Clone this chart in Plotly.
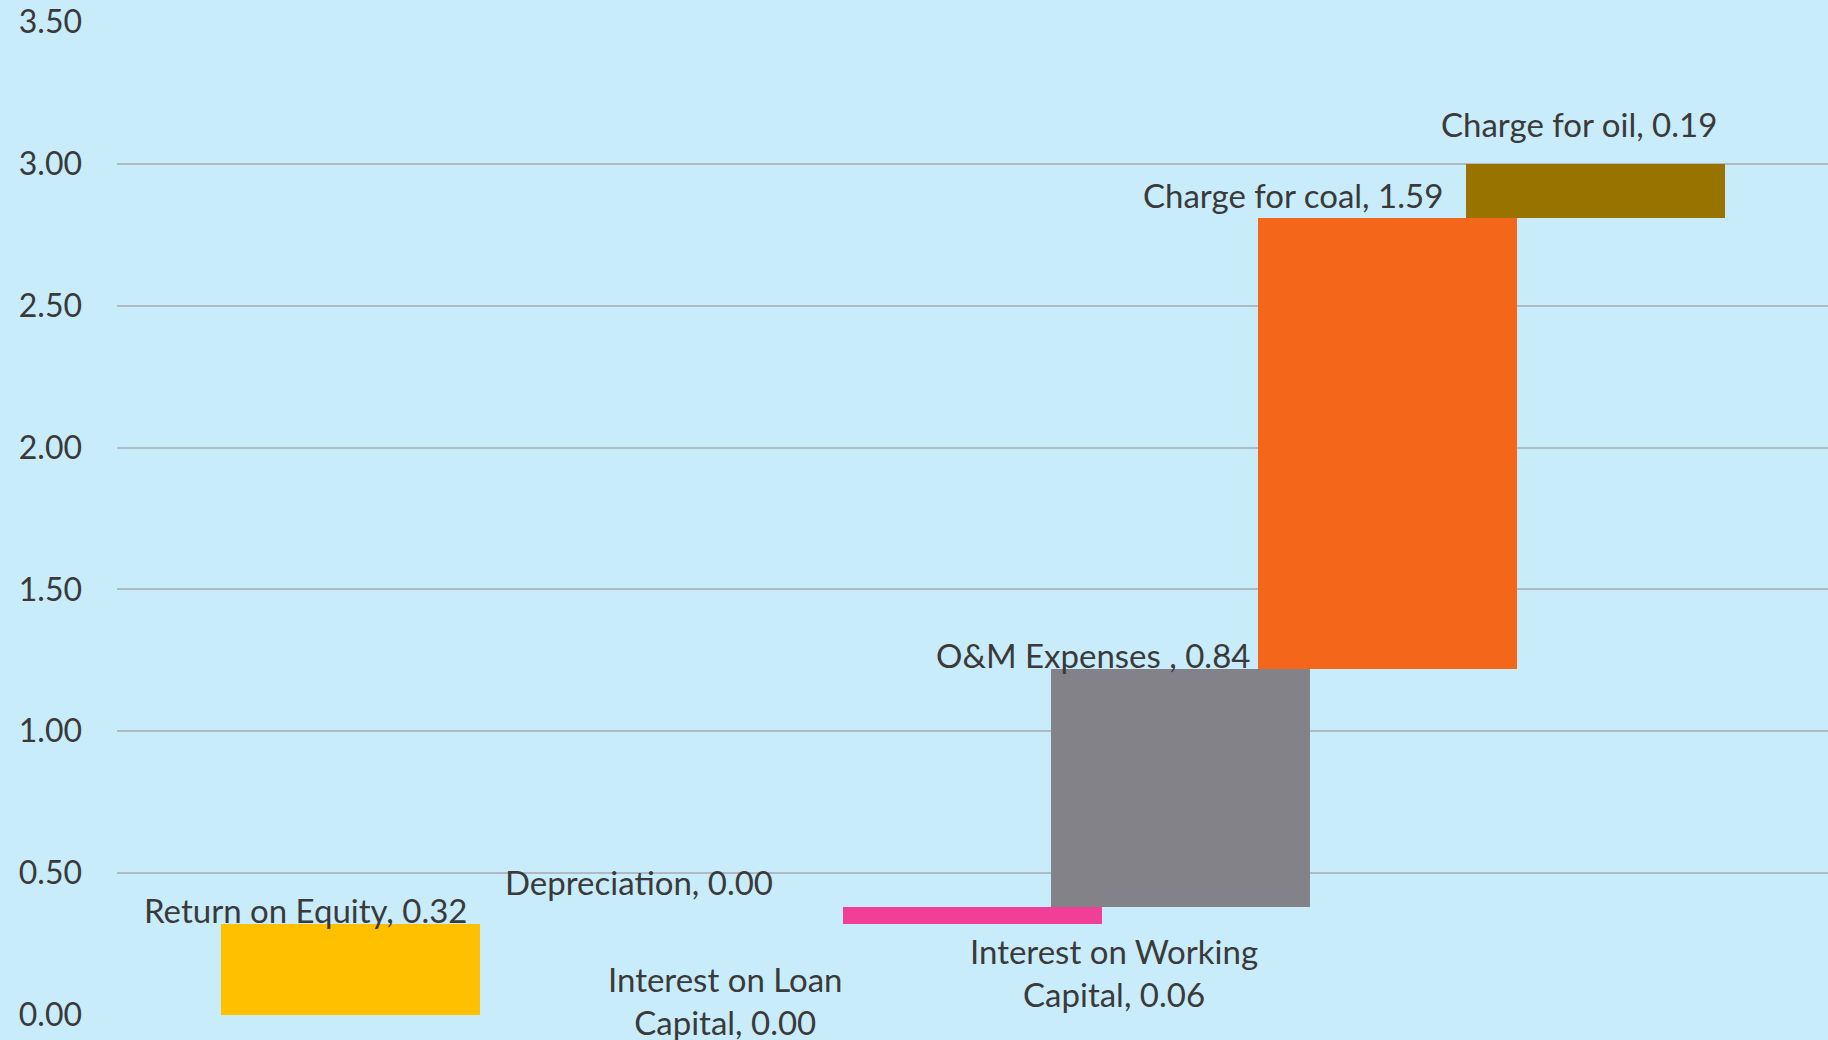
import numpy as np
import plotly.graph_objects as go

categories = ["Return on Equity", "Depreciation", "Interest on Loan Capital",
              "Interest on Working Capital", "O&M Expenses ", "Charge for coal",
              "Charge for oil"]
values = [0.32, 0.00, 0.00, 0.06, 0.84, 1.59, 0.19]
colors = ["#FFC000", "#FFC000", "#FFC000", "#F13E97", "#838288", "#F4661A", "#997300"]
y_ticks = [0.0, 0.5, 1.0, 1.5, 2.0, 2.5, 3.0, 3.5]

vals = np.array(values)
tops = np.cumsum(vals)
bases = tops - vals
xs = list(range(len(categories)))

# label placement per category
label_pos = [(-0.21, 0.37), (1.39, 0.47), (1.81, 0.05),
             (3.68, 0.15), (3.58, 1.27), (4.545, 2.89), (5.92, 3.14)]
wrap_after = {2: "Interest on Loan", 3: "Interest on Working"}

FONT = "Lato, 'Open Sans', sans-serif"
TXT = "#3A3A3A"
BG = "#C9ECFB"

fig = go.Figure()
fig.add_trace(go.Bar(
    x=xs, y=vals, base=bases, width=1.248,
    marker=dict(color=colors, line=dict(width=0)),
    hoverinfo="skip", showlegend=False,
))

annotations = []
for i, (name, v) in enumerate(zip(categories, values)):
    text = f"{name}, {v:.2f}"
    if i in wrap_after:
        head = wrap_after[i]
        text = head + "<br>" + text[len(head) + 1:]
    lx, ly = label_pos[i]
    annotations.append(dict(x=lx, y=ly, xref="x", yref="y", text=text,
                            showarrow=False, align="center",
                            font=dict(family=FONT, size=33, color=TXT)))

fig.update_layout(
    width=1828, height=1040,
    margin=dict(l=117, r=0, t=22, b=25),
    paper_bgcolor=BG, plot_bgcolor=BG,
    bargap=0, barmode="overlay",
    annotations=annotations,
    font=dict(family=FONT, size=33, color=TXT),
)
fig.update_xaxes(range=[-1.123, 7.122], showticklabels=False, showgrid=False,
                 zeroline=False, showline=False)
fig.update_yaxes(range=[0, 3.5], tickvals=y_ticks,
                 ticktext=[f"{t:.2f}" for t in y_ticks],
                 showgrid=True, gridcolor="#AEBBC3", gridwidth=1.5,
                 zeroline=False, showline=False, ticklabelstandoff=34,
                 tickfont=dict(family=FONT, size=32, color=TXT))

fig.write_html("out.html",
               config={"displayModeBar": False},
               post_script="document.body.style.margin='0';"
                           "document.body.style.overflow='hidden';"
                           "document.body.style.background='" + BG + "';")
